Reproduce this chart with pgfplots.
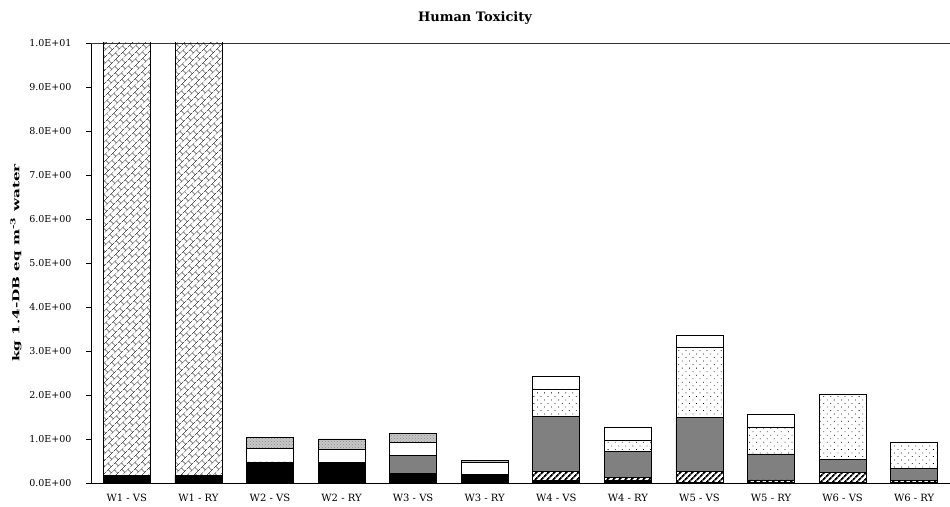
\documentclass[border=0pt]{standalone}
\usepackage{fontspec}
\setmainfont{DejaVu Serif}
\usepackage{graphicx}
\usepackage{pgfplots}
\pgfplotsset{compat=1.18}
\usepackage{pgfplotstable}
\usetikzlibrary{patterns,patterns.meta}

\tikzdeclarepattern{
  name=dbricks,
  type=uncolored,
  bounding box={(0,0) and (10pt,10pt)},
  tile size={(10pt,10pt)},
  tile transformation={rotate=45},
  code={
    \draw[line width=0.5pt] (0pt,2.5pt) -- (10pt,2.5pt);
    \draw[line width=0.5pt] (0pt,7.5pt) -- (10pt,7.5pt);
    \draw[line width=0.5pt] (2.5pt,2.5pt) -- (2.5pt,7.5pt);
    \draw[line width=0.5pt] (7.5pt,7.5pt) -- (7.5pt,10pt);
    \draw[line width=0.5pt] (7.5pt,0pt) -- (7.5pt,2.5pt);
  }
}

\pgfplotstableread{
x  black hatch gray dots white lgray brick
0  0.18  0     0    0    0     0     11
1  0.18  0     0    0    0     0     11
2  0.45  0.03  0    0    0.30  0.26  0
3  0.46  0     0    0    0.31  0.23  0
4  0.21  0     0.42 0    0.29  0.21  0
5  0.19  0     0    0    0.28  0.05  0
6  0.05  0.22  1.25 0.62 0.29  0     0
7  0.05  0.08  0.58 0.27 0.28  0     0
8  0.02  0.24  1.23 1.59 0.28  0     0
9  0.02  0.05  0.59 0.61 0.30  0     0
10 0.02  0.22  0.30 1.48 0     0     0
11 0.02  0.03  0.28 0.59 0     0     0
}\datatable

\begin{document}
\begin{tikzpicture}
\begin{axis}[
  scale only axis,
  width=859pt, height=440pt,
  xmin=-0.5, xmax=11.5,
  ymin=0, ymax=10,
  ybar stacked,
  bar width=47pt,
  axis y line*=left,
  axis x line*=bottom,
  axis line style={black, line width=0.8pt},
  tick align=outside,
  xtick={0,...,11},
  xticklabels={W1 - VS,W1 - RY,W2 - VS,W2 - RY,W3 - VS,W3 - RY,W4 - VS,W4 - RY,W5 - VS,W5 - RY,W6 - VS,W6 - RY},
  x tick style={draw=none},
  extra x ticks={1.5,3.5,5.5,7.5,9.5},
  extra x tick labels={},
  extra x tick style={tick style={draw=black, line width=0.6pt}, major tick length=5pt},
  ytick={0,1,...,10},
  yticklabels={0.0E+00,1.0E+00,2.0E+00,3.0E+00,4.0E+00,5.0E+00,6.0E+00,7.0E+00,8.0E+00,9.0E+00,1.0E+01},
  y tick style={black, line width=0.6pt},
  major tick length=5pt,
  xticklabel style={font=\fontsize{10}{11}\selectfont, yshift=-3pt},
  yticklabel style={font=\fontsize{9.5}{11}\selectfont, xshift=-11pt},
  every axis plot/.append style={draw=black, line width=0.6pt},
]
\addplot[fill=black] table[x=x,y=black]{\datatable};
\addplot[pattern={Lines[angle=45,distance=4pt,line width=1.8pt]}] table[x=x,y=hatch]{\datatable};
\addplot[fill=black!50] table[x=x,y=gray]{\datatable};
\addplot[pattern={Dots[angle=45,distance=5pt,radius=0.55pt]}] table[x=x,y=dots]{\datatable};
\addplot[fill=white] table[x=x,y=white]{\datatable};
\addplot[fill=black!22, postaction={pattern=crosshatch dots, pattern color=black!45}] table[x=x,y=lgray]{\datatable};
\addplot[pattern=dbricks] table[x=x,y=brick]{\datatable};
\draw[black!80, line width=0.8pt] (rel axis cs:0,1) -- (rel axis cs:1,1);
\end{axis}
\node[font=\bfseries\fontsize{13}{15}\selectfont] at (384pt,465pt) {Human Toxicity};
\node[rotate=90, font=\bfseries\fontsize{9.5}{11}\selectfont] at (-75pt,220pt) {\scalebox{1.6}[1]{kg 1.4-DB eq m\textsuperscript{-3} water}};
\pgfresetboundingbox
\path[use as bounding box] (-91pt,-23pt) rectangle (859pt,483pt);
\end{tikzpicture}
\end{document}
